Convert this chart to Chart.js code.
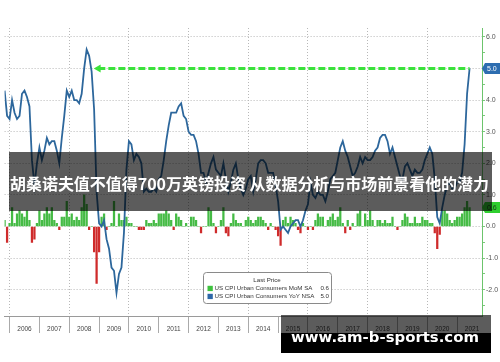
<!DOCTYPE html>
<html>
<head>
<meta charset="utf-8">
<script src="https://cdn.jsdelivr.net/npm/chart.js@4.4.1/dist/chart.umd.min.js"></script>
<style>
  html, body { margin: 0; padding: 0; background: #fff; }
  #c { display: block; }
</style>
</head>
<body>
<canvas id="c" width="500" height="362"></canvas>
<script>
// monthly values from Oct 2005 to May 2021, each plotted at month end (0 = 1 Jan 2006)
const firstMonth = -2;

const yoy = [
  4.3, 3.5, 3.4,
  4.0, 3.6, 3.4, 3.5, 4.2, 4.3, 4.1, 3.8, 2.1, 1.3, 2.0, 2.5,
  2.1, 2.4, 2.8, 2.6, 2.7, 2.7, 2.4, 2.0, 2.8, 3.5, 4.3, 4.1,
  4.3, 4.0, 4.0, 3.9, 4.2, 5.0, 5.6, 5.4, 4.9, 3.7, 1.1, 0.1,
  0.0, 0.2, -0.4, -0.7, -1.3, -1.4, -2.1, -1.5, -1.3, -0.2, 1.8, 2.7,
  2.6, 2.1, 2.3, 2.2, 2.0, 1.1, 1.2, 1.1, 1.1, 1.2, 1.1, 1.5,
  1.6, 2.1, 2.7, 3.2, 3.6, 3.6, 3.6, 3.8, 3.9, 3.5, 3.4, 3.0,
  2.9, 2.9, 2.7, 2.3, 1.7, 1.7, 1.4, 1.7, 2.0, 2.2, 1.8, 1.7,
  1.6, 2.0, 1.5, 1.1, 1.4, 1.8, 2.0, 1.5, 1.2, 1.0, 1.2, 1.5,
  1.6, 1.1, 1.5, 2.0, 2.1, 2.1, 2.0, 1.7, 1.7, 1.7, 1.3, 0.8,
  -0.1, 0.0, -0.1, -0.2, 0.0, 0.1, 0.2, 0.2, 0.0, 0.2, 0.5, 0.7,
  1.4, 1.0, 0.9, 1.1, 1.0, 1.0, 0.8, 1.1, 1.5, 1.6, 1.7, 2.1,
  2.5, 2.7, 2.4, 2.2, 1.9, 1.6, 1.7, 1.9, 2.2, 2.0, 2.2, 2.1,
  2.1, 2.2, 2.4, 2.5, 2.8, 2.9, 2.9, 2.7, 2.3, 2.5, 2.2, 1.9,
  1.6, 1.5, 1.9, 2.0, 1.8, 1.6, 1.8, 1.7, 1.7, 1.8, 2.1, 2.3,
  2.5, 2.3, 1.5, 0.3, 0.1, 0.6, 1.0, 1.3, 1.4, 1.2, 1.2, 1.4,
  1.4, 1.7, 2.6, 4.2, 5.0
];

const mom = [
  0.2, -0.5, 0.1,
  0.6, 0.1, 0.4, 0.5, 0.4, 0.3, 0.5, 0.2, -0.5, -0.4, 0.1, 0.5,
  0.2, 0.4, 0.6, 0.4, 0.6, 0.2, 0.1, -0.1, 0.3, 0.3, 0.8, 0.3,
  0.4, 0.2, 0.3, 0.2, 0.6, 1.0, 0.7, -0.1, 0.0, -0.8, -1.8, -0.8,
  0.3, 0.4, -0.1, 0.0, 0.1, 0.8, 0.0, 0.4, 0.2, 0.2, 0.3, 0.1,
  0.1, 0.0, 0.0, -0.1, -0.1, -0.1, 0.2, 0.1, 0.1, 0.2, 0.1, 0.4,
  0.4, 0.4, 0.5, 0.4, 0.2, -0.1, 0.4, 0.3, 0.2, 0.0, 0.1, 0.0,
  0.3, 0.3, 0.2, 0.0, -0.2, 0.0, 0.0, 0.6, 0.5, 0.1, -0.2, 0.0,
  0.2, 0.6, -0.2, -0.3, 0.1, 0.4, 0.2, 0.1, 0.1, 0.0, 0.2, 0.3,
  0.2, 0.1, 0.2, 0.3, 0.3, 0.2, 0.1, -0.1, 0.1, 0.0, -0.1, -0.3,
  -0.6, 0.2, 0.3, 0.1, 0.3, 0.2, 0.1, -0.1, -0.2, 0.1, 0.0, -0.1,
  0.0, -0.1, 0.2, 0.4, 0.3, 0.3, 0.0, 0.2, 0.3, 0.4, 0.2, 0.3,
  0.6, 0.1, -0.2, 0.2, -0.1, 0.1, 0.0, 0.4, 0.5, 0.0, 0.4, 0.2,
  0.5, 0.2, 0.0, 0.2, 0.2, 0.1, 0.2, 0.1, 0.1, 0.3, 0.0, -0.1,
  0.0, 0.2, 0.4, 0.3, 0.1, 0.1, 0.3, 0.1, 0.1, 0.3, 0.2, 0.2,
  0.1, 0.1, -0.2, -0.7, -0.25, 0.5, 0.5, 0.4, 0.2, 0.1, 0.2, 0.3,
  0.3, 0.4, 0.6, 0.8, 0.6
];

const years = ['2006', '2007', '2008', '2009', '2010', '2011', '2012', '2013',
               '2014', '2015', '2016', '2017', '2018', '2019', '2020', '2021'];
const yTicks = [-2.5, -2, -1.5, -1, -0.5, 0, 0.5, 1, 1.5, 2, 2.5, 3, 3.5, 4, 4.5, 5, 5.5, 6];

const momLabel = 'US CPI Urban Consumers MoM SA';
const yoyLabel = 'US CPI Urban Consumers YoY NSA';
const arrowFromMonth = 35.7;   // the arrow points back to late 2008
const bannerText = '胡桑诺夫值不值得700万英镑投资 从数据分析与市场前景看他的潜力';
const watermark = 'www.am-b-sports.com';

const green = '#45bb45';
const red = '#cf2b2b';
const blue = '#2d679c';
const axisFont = { family: 'Liberation Sans', size: 6.5 };

const lastYoy = yoy[yoy.length - 1];
const lastMom = mom[mom.length - 1];
const lastMonth = firstMonth + yoy.length - 1;

// price tag on the right axis
function tag(ctx, x0, yc, text, bg, fg) {
  ctx.fillStyle = bg;
  ctx.beginPath();
  ctx.moveTo(x0, yc);
  ctx.lineTo(x0 + 3, yc - 5.5);
  ctx.lineTo(500, yc - 5.5);
  ctx.lineTo(500, yc + 5.5);
  ctx.lineTo(x0 + 3, yc + 5.5);
  ctx.closePath();
  ctx.fill();
  ctx.fillStyle = fg;
  ctx.font = '7px "Liberation Sans"';
  ctx.textAlign = 'left';
  ctx.textBaseline = 'middle';
  ctx.fillText(text, x0 + 5, yc + 0.5);
}

const overlay = {
  id: 'overlay',
  afterDraw(chart) {
    const { ctx, chartArea, scales } = chart;
    const y = scales.y;
    ctx.save();

    tag(ctx, chartArea.right, y.getPixelForValue(lastMom), lastMom.toFixed(1), '#2fcf2f', '#1d3d1d');
    tag(ctx, chartArea.right, y.getPixelForValue(lastYoy), lastYoy.toFixed(1), '#2d6db0', '#fff');

    // legend box
    ctx.fillStyle = '#fff';
    ctx.strokeStyle = '#8a8a8a';
    ctx.lineWidth = 1;
    ctx.beginPath();
    ctx.roundRect(203.5, 272.5, 128, 31, 3);
    ctx.fill();
    ctx.stroke();
    ctx.fillStyle = '#333';
    ctx.font = '6.2px "Liberation Sans"';
    ctx.textBaseline = 'middle';
    ctx.textAlign = 'center';
    ctx.fillText('Last Price', 267, 280.5);
    const rows = [[momLabel, lastMom, '#3ec23e'], [yoyLabel, lastYoy, '#2d67a8']];
    rows.forEach(([label, v, col], i) => {
      const yc = 288.5 + i * 8;
      ctx.fillStyle = col;
      ctx.fillRect(207.5, yc - 2.7, 5.3, 5.3);
      ctx.fillStyle = '#333';
      ctx.textAlign = 'left';
      ctx.fillText(label, 214.5, yc);
      ctx.textAlign = 'right';
      ctx.fillText(v.toFixed(1), 329, yc);
    });

    // title banner
    ctx.fillStyle = 'rgba(0,0,0,0.64)';
    ctx.fillRect(9, 152, 483, 59);
    ctx.fillStyle = '#fff';
    ctx.font = 'bold 18px "Noto Sans CJK SC"';
    let w = ctx.measureText(bannerText).width;
    ctx.font = 'bold ' + (18 * 479 / w).toFixed(2) + 'px "Noto Sans CJK SC"';
    ctx.textAlign = 'center';
    ctx.textBaseline = 'middle';
    ctx.fillText(bannerText, 249.5, 184);

    // watermark
    ctx.fillStyle = 'rgba(0,0,0,0.64)';
    ctx.fillRect(281, 315, 210, 18);
    ctx.fillStyle = '#000';
    ctx.fillRect(281, 333, 210, 20);
    ctx.fillStyle = '#fff';
    ctx.font = 'bold 20px "DejaVu Sans"';
    w = ctx.measureText(watermark).width;
    ctx.font = 'bold ' + (20 * 188 / w).toFixed(2) + 'px "DejaVu Sans"';
    ctx.textAlign = 'center';
    ctx.textBaseline = 'alphabetic';
    ctx.fillText(watermark, 385, 342);

    ctx.restore();
  }
};

new Chart(document.getElementById('c'), {
  type: 'bar',
  data: {
    datasets: [
      {
        type: 'bar',
        label: momLabel,
        data: mom.map((v, i) => ({ x: firstMonth + i, y: v })),
        backgroundColor: mom.map(v => v < 0 ? red : green),
        barThickness: 1.6,
        order: 3
      },
      {
        type: 'line',
        label: yoyLabel,
        data: yoy.map((v, i) => ({ x: firstMonth + i, y: v })),
        borderColor: blue,
        borderWidth: 1.8,
        pointRadius: 0,
        tension: 0,
        order: 2
      },
      {
        type: 'line',
        label: 'arrow',
        data: [{ x: arrowFromMonth, y: lastYoy }, { x: lastMonth, y: lastYoy }],
        borderColor: '#3be23b',
        borderWidth: 3,
        borderDash: [7, 3],
        pointStyle: 'triangle',
        pointRotation: -90,
        pointRadius: [4.6, 0],
        pointBackgroundColor: '#3be23b',
        pointBorderWidth: 0,
        order: 1
      }
    ]
  },
  options: {
    responsive: false,
    animation: false,
    layout: { padding: { top: 28, left: 0, right: 0, bottom: 0 } },
    plugins: {
      legend: { display: false },
      tooltip: { enabled: false }
    },
    scales: {
      x: {
        type: 'linear',
        offset: false,
        min: -2,
        max: 190,
        afterBuildTicks: s => {
          const t = [];
          years.forEach((_, i) => { t.push({ value: i * 12 }, { value: i * 12 + 6 }); });
          s.ticks = t;
        },
        afterFit: s => { s.height = 46; },
        ticks: {
          autoSkip: false,
          maxRotation: 0,
          padding: -8,
          color: '#444',
          font: axisFont,
          callback: v => v % 12 === 6 ? years[(v - 6) / 12] : ''
        },
        grid: {
          offset: false,
          color: c => c.tick && c.tick.value % 24 === 0 ? '#b8b8b8' : 'rgba(0,0,0,0)',
          tickColor: c => c.tick && c.tick.value % 12 === 0 ? '#aaa' : 'rgba(0,0,0,0)',
          tickLength: 17,
          tickBorderDash: []
        },
        border: { color: '#9a9a9a', dash: [1, 2] }
      },
      y: {
        position: 'right',
        min: -2.83,
        max: 6.28,
        afterBuildTicks: s => { s.ticks = yTicks.map(v => ({ value: v })); },
        afterFit: s => { s.width = 18; },
        ticks: {
          autoSkip: false,
          padding: 1,
          color: '#555',
          font: { family: 'Liberation Sans', size: 7 },
          callback: v => Number.isInteger(v) ? v.toFixed(1) : ''
        },
        grid: {
          color: c => c.tick && Number.isInteger(c.tick.value) ? '#b8b8b8' : 'rgba(0,0,0,0)',
          tickColor: '#7cc87c',
          tickLength: 3,
          tickBorderDash: []
        },
        border: { color: '#6cc46c', dash: [1, 2] }
      }
    }
  },
  plugins: [overlay]
});
</script>
</body>
</html>
